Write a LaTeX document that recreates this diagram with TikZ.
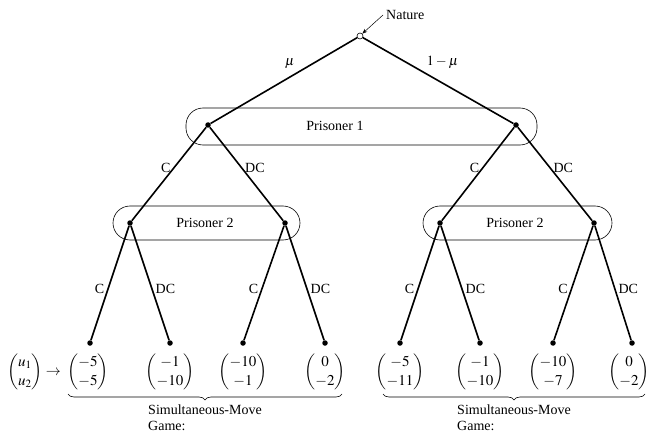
\documentclass[tikz,border=0pt]{standalone}
\usepackage{amsmath}
\usepackage{mathptmx}
\usepackage[no-math]{fontspec}
\setmainfont{Liberation Serif}
\usetikzlibrary{positioning,decorations.pathreplacing,arrows.meta}

\begin{document}
\begin{tikzpicture}[x=1pt,y=-1pt,
    dot/.style={circle,fill=black,inner sep=0pt,minimum size=5.5pt},
    move/.style={line width=1.6pt},
    infoset/.style={draw,line width=0.6pt,rounded corners=17pt},
    lbl/.style={font=\fontsize{14}{16}\selectfont,inner sep=3pt},
    payoff/.style={font=\fontsize{15}{19}\selectfont,inner sep=0pt}]
    \useasboundingbox (0,0) rectangle (649,444);
    % information sets
    \draw[infoset] (186,108) rectangle (537,145);
    \draw[infoset] (113,206) rectangle (300,240);
    \draw[infoset] (423,206) rectangle (612,240);
    \node[lbl] (is1) at (335,126) {Prisoner 1};
    \node[lbl] (is2a) at (205,223) {Prisoner 2};
    \node[lbl] (is2b) at (515,223) {Prisoner 2};
    % nature
    \node[circle,draw,fill=white,inner sep=0pt,minimum size=6pt,line width=0.6pt] (root) at (360,36) {};
    \node[lbl,anchor=west] (nature) at (383,15) {Nature};
    \draw[-{Stealth[length=5pt]},line width=0.5pt] (nature.west) -- (root.north east);
    % decision nodes
    \node[dot] (p1l) at (208,125) {};
    \node[dot] (p1r) at (516,125) {};
    \node[dot] (p2a) at (130,223) {};
    \node[dot] (p2b) at (285,223) {};
    \node[dot] (p2c) at (440,223) {};
    \node[dot] (p2d) at (594,223) {};
    % terminal nodes
    \node[dot] (t1) at (90,343) {};
    \node[dot] (t2) at (170,343) {};
    \node[dot] (t3) at (243,343) {};
    \node[dot] (t4) at (325,343) {};
    \node[dot] (t5) at (400,343) {};
    \node[dot] (t6) at (480,343) {};
    \node[dot] (t7) at (553,343) {};
    \node[dot] (t8) at (632,343) {};
    % moves
    \draw[move] (root) -- node[lbl,pos=0.4,above left] {$\mu$} (p1l);
    \draw[move] (root) -- node[lbl,pos=0.4,above right] {$1-\mu$} (p1r);
    \draw[move] (p1l) -- node[lbl,pos=0.43,left] {C} (p2a);
    \draw[move] (p1l) -- node[lbl,pos=0.43,right] {DC} (p2b);
    \draw[move] (p1r) -- node[lbl,pos=0.43,left] {C} (p2c);
    \draw[move] (p1r) -- node[lbl,pos=0.43,right] {DC} (p2d);
    \draw[move] (p2a) -- node[lbl,pos=0.55,left] {C} (t1);
    \draw[move] (p2a) -- node[lbl,pos=0.55,right] {DC} (t2);
    \draw[move] (p2b) -- node[lbl,pos=0.55,left] {C} (t3);
    \draw[move] (p2b) -- node[lbl,pos=0.55,right] {DC} (t4);
    \draw[move] (p2c) -- node[lbl,pos=0.55,left] {C} (t5);
    \draw[move] (p2c) -- node[lbl,pos=0.55,right] {DC} (t6);
    \draw[move] (p2d) -- node[lbl,pos=0.55,left] {C} (t7);
    \draw[move] (p2d) -- node[lbl,pos=0.55,right] {DC} (t8);
    % payoffs
    \node[payoff] (key) at (34,372) {$\begin{pmatrix}u_1\\u_2\end{pmatrix}\to$};
    \node[payoff] (u1) at (88,372) {$\begin{pmatrix}-5\\-5\end{pmatrix}$};
    \node[payoff] (u2) at (170,372) {$\begin{pmatrix}-1\\-10\end{pmatrix}$};
    \node[payoff] (u3) at (243,372) {$\begin{pmatrix}-10\\-1\end{pmatrix}$};
    \node[payoff] (u4) at (325,372) {$\begin{pmatrix}0\\-2\end{pmatrix}$};
    \node[payoff] (u5) at (400,372) {$\begin{pmatrix}-5\\-11\end{pmatrix}$};
    \node[payoff] (u6) at (480,372) {$\begin{pmatrix}-1\\-10\end{pmatrix}$};
    \node[payoff] (u7) at (553,372) {$\begin{pmatrix}-10\\-7\end{pmatrix}$};
    \node[payoff] (u8) at (629,372) {$\begin{pmatrix}0\\-2\end{pmatrix}$};
    % braces
    \draw[decorate,decoration={brace,mirror,amplitude=6pt},line width=0.6pt] (68,394) -- (342,394);
    \draw[decorate,decoration={brace,mirror,amplitude=6pt},line width=0.6pt] (383,394) -- (645,394);
    \node[lbl,align=left,anchor=north] (game1) at (205,402) {Simultaneous-Move\\Game:};
    \node[lbl,align=left,anchor=north] (game2) at (514,402) {Simultaneous-Move\\Game:};
\end{tikzpicture}
\end{document}
